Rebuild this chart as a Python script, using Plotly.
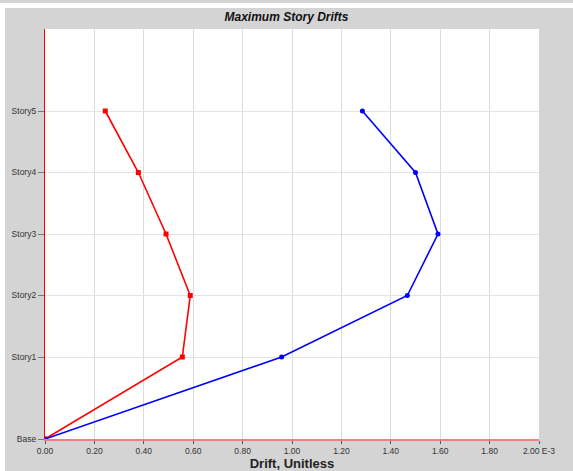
import plotly.graph_objects as go

stories = ["Base", "Story1", "Story2", "Story3", "Story4", "Story5"]
elev = [0, 4, 7, 10, 13, 16]
drift_red = [0.0, 0.556, 0.588, 0.49, 0.378, 0.244]
drift_blue = [0.0, 0.958, 1.467, 1.591, 1.50, 1.285]
xticks = [0.0, 0.2, 0.4, 0.6, 0.8, 1.0, 1.2, 1.4, 1.6, 1.8, 2.0]
xticklabels = ["0.00", "0.20", "0.40", "0.60", "0.80", "1.00", "1.20", "1.40", "1.60", "1.80", "2.00 E-3"]

W, H = 573, 471
L, R, T, B = 45, 34, 29, 32
pw, ph = W - L - R, H - T - B

def px(x):
    return (x - L) / pw

def py(y):
    return (H - B - y) / ph

fig = go.Figure()
fig.add_trace(go.Scatter(x=drift_red, y=elev, mode="lines+markers",
                         line=dict(color="#ff0000", width=1.6),
                         marker=dict(symbol="square", size=5, color="#ff0000"),
                         showlegend=False))
fig.add_trace(go.Scatter(x=drift_blue, y=elev, mode="lines+markers",
                         line=dict(color="#0000ff", width=1.6),
                         marker=dict(symbol="circle", size=5, color="#0000ff"),
                         showlegend=False))

shapes = [
    dict(type="rect", xref="paper", yref="paper", x0=px(0), x1=px(W), y0=py(3), y1=py(8),
         fillcolor="white", line=dict(width=0), layer="below"),
    dict(type="rect", xref="paper", yref="paper", x0=px(0), x1=px(5), y0=py(3), y1=py(H),
         fillcolor="white", line=dict(width=0), layer="below"),
]

fig.update_layout(
    width=W, height=H,
    margin=dict(l=L, r=R, t=T, b=B, autoexpand=False),
    paper_bgcolor="#d4d4d4",
    plot_bgcolor="white",
    font=dict(family="Liberation Sans, Arial, sans-serif", size=8.5, color="#333333"),
    title=dict(text="<b><i>Maximum Story Drifts</i></b>", x=px(292), xanchor="center",
               y=1 - 17 / H, yanchor="middle",
               font=dict(size=12, color="#111111")),
    shapes=shapes,
    xaxis=dict(range=[0, 2.0], tickvals=xticks, ticktext=xticklabels,
               automargin=False,
               showgrid=True, gridcolor="#dcdcdc", gridwidth=1,
               showline=True, linecolor="#ee8080", linewidth=1.5,
               ticks="outside", ticklen=3, tickcolor="#555555",
               zeroline=False,
               title=dict(text="<b>Drift, Unitless</b>", standoff=2,
                          font=dict(size=13, color="#222222"))),
    yaxis=dict(range=[0, 20], tickvals=elev, ticktext=stories,
               automargin=False,
               showgrid=True, gridcolor="#e4e4e4", gridwidth=1,
               showline=True, linecolor="#ff0000", linewidth=1.2,
               ticks="outside", ticklen=6, tickcolor="#777777",
               zeroline=False),
)

fig.write_html("out.html", config={"displayModeBar": False},
               post_script="document.body.style.margin='0';document.body.style.padding='0';")
